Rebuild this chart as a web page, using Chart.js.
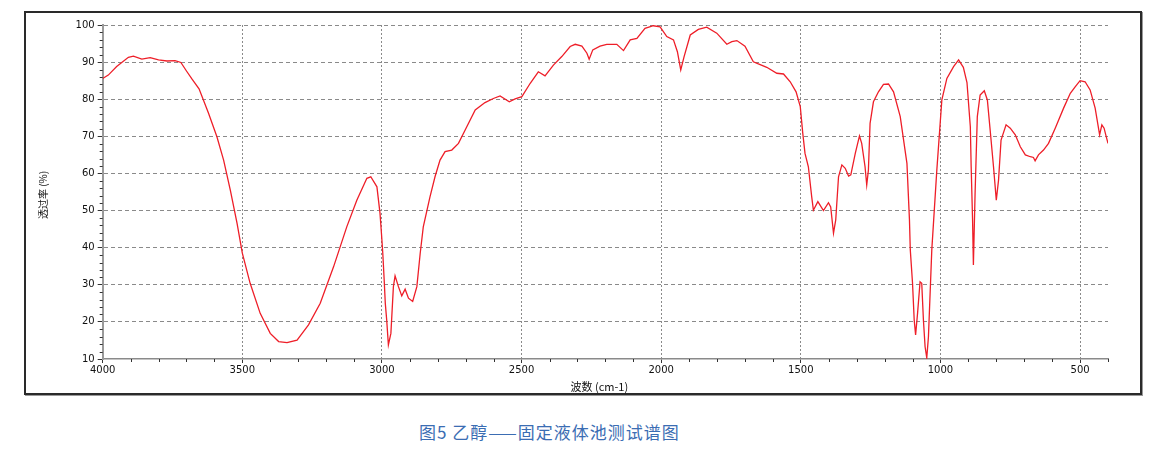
<!DOCTYPE html>
<html>
<head>
<meta charset="utf-8">
<script src="https://cdn.jsdelivr.net/npm/chart.js@4.4.1/dist/chart.umd.min.js"></script>
<style>
  body { margin: 0; background: #fff; }
  #wrap { position: relative; width: 1163px; height: 455px; }
  #frame { position: absolute; left: 24px; top: 11px; width: 1114px; height: 380px; border: 2px solid #2a2a2a; box-shadow: 1px 1px 0 #999; }
  #plot { position: absolute; left: 0; top: 0; }
  #caption { position: absolute; left: 419px; top: 419px; font: 17px "Noto Sans CJK SC", sans-serif; letter-spacing: 1px; color: #3b6db3; white-space: nowrap; }
</style>
</head>
<body>
<div id="wrap">
  <div id="frame"></div>
  <canvas id="plot" width="1163" height="400"></canvas>
  <div id="caption">图5 乙醇——固定液体池测试谱图</div>
</div>
<script>
// spectrum: wavenumber (cm-1) / transmittance (%)
const wavenumbers = [
  4000, 3980, 3950, 3908, 3890, 3860, 3830, 3800, 3770, 3741, 3720, 3700, 3680, 3655, 3621, 3591,
  3567, 3543, 3519, 3500, 3472, 3436, 3400, 3370, 3340, 3304, 3263, 3221, 3173, 3126, 3090, 3054,
  3040, 3018, 3007, 3001, 2997, 2992, 2988, 2983, 2977, 2968, 2959, 2953, 2941, 2929, 2917, 2905,
  2890, 2875, 2863, 2852, 2828, 2810, 2792, 2774, 2750, 2726, 2702, 2666, 2631, 2601, 2577, 2544,
  2523, 2499, 2469, 2440, 2416, 2386, 2356, 2326, 2308, 2284, 2266, 2258, 2245, 2219, 2195, 2159,
  2135, 2111, 2087, 2058, 2028, 2004, 1980, 1956, 1942, 1930, 1918, 1896, 1867, 1837, 1801, 1765,
  1747, 1729, 1700, 1670, 1652, 1622, 1586, 1562, 1538, 1517, 1502, 1493, 1485, 1473, 1461, 1455,
  1439, 1419, 1401, 1393, 1383, 1375, 1365, 1353, 1341, 1329, 1321, 1305, 1290, 1282, 1270, 1264,
  1258, 1252, 1240, 1222, 1204, 1186, 1168, 1144, 1120, 1111, 1108, 1100, 1094, 1089, 1082, 1073,
  1067, 1061, 1055, 1049, 1043, 1031, 1013, 995, 977, 953, 935, 918, 905, 893, 890, 885,
  882, 876, 868, 858, 843, 832, 822, 810, 800, 792, 783, 765, 750, 732, 714, 696,
  678, 667, 661, 649, 631, 613, 589, 559, 535, 517, 500, 482, 464, 446, 430, 422,
  414, 408, 400
];
const transmittance = [
  85.6, 86.5, 88.8, 91.3, 91.6, 90.8, 91.2, 90.6, 90.3, 90.4, 89.9, 87.6, 85.4, 82.8, 76.2, 69.9,
  63.6, 55.5, 46.6, 38.5, 30.4, 22.3, 16.9, 14.7, 14.4, 15.1, 19.2, 25.0, 34.9, 45.6, 52.8, 58.7,
  59.1, 56.4, 49.3, 43.0, 38.5, 31.3, 25.0, 20.5, 13.8, 16.9, 29.5, 32.4, 29.5, 27.0, 28.8, 26.4,
  25.5, 29.5, 38.5, 45.6, 53.7, 59.1, 63.6, 65.9, 66.3, 68.1, 71.7, 77.1, 79.1, 80.2, 80.9, 79.3,
  80.1, 80.7, 84.3, 87.4, 86.3, 89.2, 91.5, 94.2, 94.8, 94.3, 92.4, 90.8, 93.3, 94.3, 94.8, 94.8,
  93.1, 96.0, 96.4, 99.1, 99.8, 99.5, 96.9, 96.0, 92.8, 87.9, 91.5, 97.3, 98.8, 99.4, 97.8, 94.8,
  95.5, 95.8, 94.3, 90.1, 89.5, 88.6, 87.0, 86.8, 84.7, 82.0, 78.0, 70.8, 65.4, 61.8, 53.7, 50.1,
  52.4, 50.0, 52.1, 51.0, 43.9, 47.5, 59.1, 62.3, 61.4, 59.3, 59.6, 65.4, 70.1, 68.1, 61.8, 56.9,
  60.9, 73.5, 79.3, 82.0, 84.0, 84.1, 82.0, 75.3, 62.7, 47.5, 39.4, 30.4, 20.5, 16.5, 22.3, 30.8,
  30.4, 20.5, 13.3, 10.3, 16.0, 39.4, 60.9, 79.8, 85.6, 88.8, 90.6, 88.6, 84.5, 72.6, 61.8, 47.5,
  35.3, 54.6, 75.3, 81.1, 82.3, 79.8, 71.7, 61.8, 52.8, 58.2, 69.0, 73.1, 72.2, 70.4, 67.2, 65.0,
  64.5, 64.3, 63.4, 65.0, 66.3, 68.1, 72.2, 77.6, 81.6, 83.4, 85.0, 84.7, 82.5, 77.6, 70.4, 73.1,
  72.2, 70.4, 68.1
];
const xTicks = [4000, 3500, 3000, 2500, 2000, 1500, 1000, 500];
const yTicks = [10, 20, 30, 40, 50, 60, 70, 80, 90, 100];
const xTitle = '波数 (cm-1)';
const yTitle = '透过率 (%)';

const tickFont = { family: 'DejaVu Sans', size: 10 };

// minor ticks and the two axis titles
const extras = {
  id: 'extras',
  afterDraw(c) {
    const ctx = c.ctx, x = c.scales.x, y = c.scales.y, a = c.chartArea;
    ctx.save();
    ctx.strokeStyle = '#333';
    ctx.lineWidth = 1;
    ctx.beginPath();
    for (let v = 12; v < 100; v += 2) {
      if (v % 10 === 0) continue;
      const py = Math.round(y.getPixelForValue(v)) + 0.5;
      ctx.moveTo(a.left - 3, py); ctx.lineTo(a.left, py);
    }
    for (let v = 400; v < 4000; v += 100) {
      if (v % 500 === 0) continue;
      const px = Math.round(x.getPixelForValue(v)) + 0.5;
      ctx.moveTo(px, a.bottom); ctx.lineTo(px, a.bottom + 3);
    }
    ctx.stroke();

    ctx.fillStyle = '#111';
    ctx.textAlign = 'center';
    ctx.textBaseline = 'middle';
    ctx.font = '11px "Noto Sans CJK SC", sans-serif';
    ctx.fillText(xTitle, (a.left + a.right) / 2 - 6, 387);
    ctx.translate(43, (a.top + a.bottom) / 2 + 3);
    ctx.rotate(-Math.PI / 2);
    ctx.font = '10px "Noto Sans CJK SC", sans-serif';
    ctx.fillText(yTitle, 0, 0);
    ctx.restore();
  }
};

new Chart(document.getElementById('plot'), {
  type: 'line',
  data: {
    datasets: [{
      data: wavenumbers.map((w, i) => ({ x: w, y: transmittance[i] })),
      borderColor: 'rgb(238, 30, 40)',
      borderWidth: 1.3,
      pointRadius: 0,
      tension: 0,
      fill: false
    }]
  },
  options: {
    responsive: false,
    animation: false,
    layout: { padding: { left: 0, right: 55, top: 25, bottom: 0 } },
    plugins: { legend: { display: false }, tooltip: { enabled: false } },
    scales: {
      x: {
        type: 'linear',
        reverse: true,
        min: 400,
        max: 4000,
        afterBuildTicks: s => { s.ticks = xTicks.map(v => ({ value: v })); },
        afterFit: s => { s.height = 41; },
        ticks: { color: '#111', font: tickFont, padding: 1, maxRotation: 0, autoSkip: false, callback: v => String(v) },
        grid: {
          color: c => (c.tick && c.tick.value === 4000) ? 'rgba(0,0,0,0)' : '#8a8a8a',
          tickColor: '#333',
          tickLength: 4,
          tickBorderDash: []
        },
        border: { color: '#8a8a8a', width: 1.5, dash: [2, 2] }
      },
      y: {
        min: 10,
        max: 100,
        afterBuildTicks: s => { s.ticks = yTicks.map(v => ({ value: v })); },
        afterFit: s => { s.width = 102.7; },
        ticks: { color: '#111', font: tickFont, padding: 3, autoSkip: false, callback: v => String(v) },
        grid: {
          color: c => (c.tick && c.tick.value === 10) ? 'rgba(0,0,0,0)' : '#8a8a8a',
          tickColor: '#333',
          tickLength: 5,
          tickBorderDash: []
        },
        border: { color: '#9a9a9a', width: 2, dash: [4, 3] }
      }
    }
  },
  plugins: [extras]
});
</script>
</body>
</html>
